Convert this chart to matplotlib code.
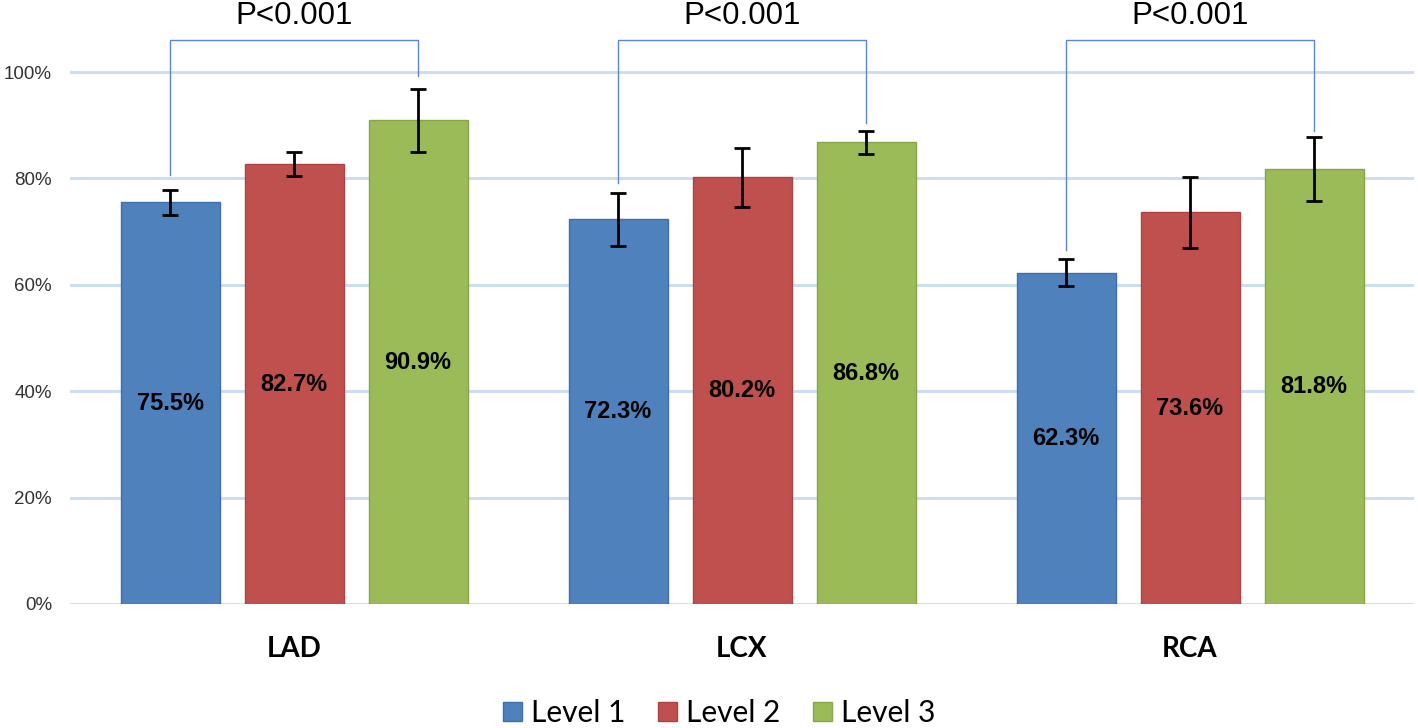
import matplotlib.pyplot as plt
import numpy as np

# data
vessels = ["LAD", "LCX", "RCA"]
levels = ["Level 1", "Level 2", "Level 3"]
level1 = [75.5, 72.3, 62.3]
level2 = [82.7, 80.2, 73.6]
level3 = [90.9, 86.8, 81.8]
level1_err = [2.4, 5.0, 2.6]
level2_err = [2.3, 5.5, 6.7]
level3_err = [5.9, 2.2, 6.0]
p_labels = ["P<0.001", "P<0.001", "P<0.001"]
bracket_top = 106
bracket_left_end = [80.6, 79.1, 66.5]
bracket_right_end = [99.2, 90.4, 88.9]

colors = ["#4F81BD", "#C0504D", "#9BBB59"]
edges = ["#3f6fa8", "#a94442", "#86a548"]

fig = plt.figure(figsize=(14.18, 7.28), dpi=100)
ax = fig.add_axes([70 / 1418, 124 / 728, (1414 - 70) / 1418, 604 / 728])

x = np.arange(len(vessels))
step = 124 / 448
width = 99 / 448

series = [level1, level2, level3]
errs = [level1_err, level2_err, level3_err]
for j, (vals, err) in enumerate(zip(series, errs)):
    pos = x + (j - 1) * step
    ax.bar(pos, vals, width, color=colors[j], edgecolor=edges[j], linewidth=1,
           label=levels[j], zorder=3)
    ax.errorbar(pos, vals, yerr=err, fmt="none", ecolor="black", elinewidth=2,
                capsize=6, capthick=2, zorder=4)
    for px, v in zip(pos, vals):
        ax.text(px, v / 2, f"{v:.1f}%", ha="center", va="center",
                fontsize=17, fontweight="bold", family="Liberation Sans", zorder=5)

# significance brackets between level 1 and level 3
for i in range(len(vessels)):
    xl = x[i] - step
    xr = x[i] + step
    ax.plot([xl, xl, xr, xr], [bracket_left_end[i], bracket_top, bracket_top, bracket_right_end[i]],
            color="#5b86d6", linewidth=1, zorder=4)
    ax.text(x[i], 110.5, p_labels[i], ha="center", va="center", fontsize=22.5,
            family="Liberation Sans", color="black")

ax.set_xlim(-0.5, 2.5)
ax.set_ylim(0, 604 / 532 * 100)
ax.set_yticks([0, 20, 40, 60, 80, 100])
ax.set_yticklabels(["0%", "20%", "40%", "60%", "80%", "100%"], fontsize=13.5,
                   family="Liberation Sans", color="#333333")
ax.set_xticks([])
for yv in [0, 20, 40, 60, 80, 100]:
    ax.axhline(yv, color="#c9dcf2", linewidth=2, zorder=1)
for s in ax.spines.values():
    s.set_visible(False)
ax.tick_params(axis="y", length=0, pad=13)

for i, name in enumerate(vessels):
    ax.text(x[i], -8.5, name, ha="center", va="center", fontsize=20,
            fontweight="bold", family="Lato")

handles, labs = ax.get_legend_handles_labels()
fig.legend(handles, labs, loc="center", bbox_to_anchor=(719 / 1418, 1 - 713 / 728),
           ncol=3, frameon=False, prop={"family": "Lato", "size": 21.5},
           handlelength=0.63, handleheight=0.63, handletextpad=0.3, columnspacing=1.1)

fig.savefig("out.png", dpi=100)
